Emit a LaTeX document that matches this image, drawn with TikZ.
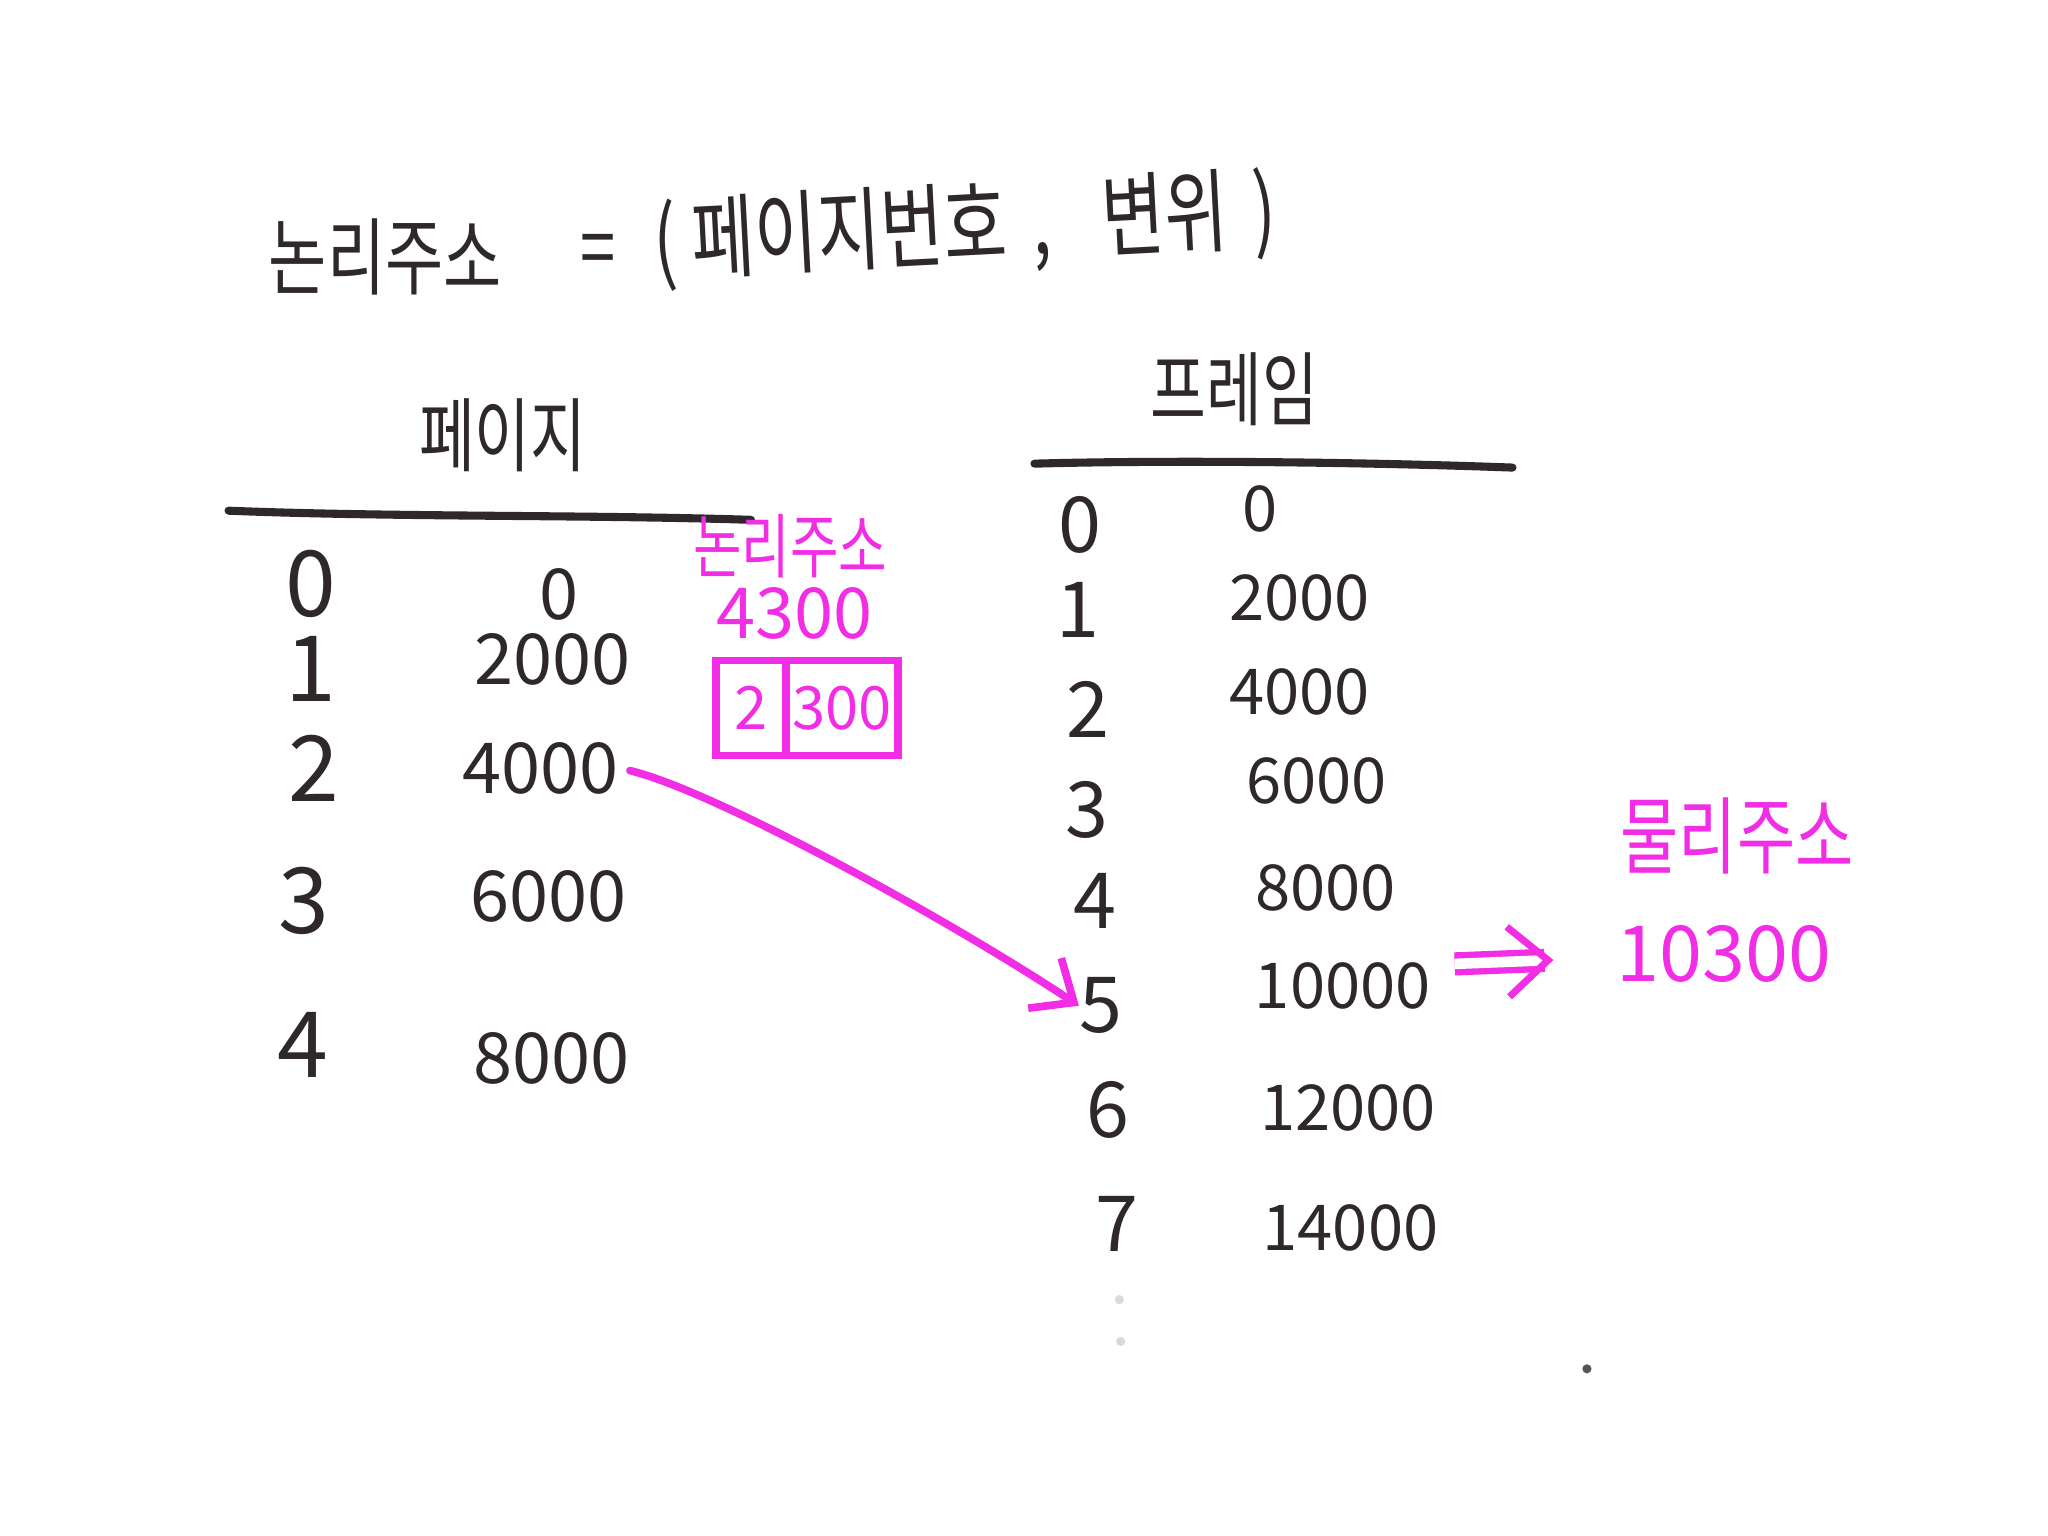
\documentclass[tikz,border=0pt]{standalone}
\usepackage{fontspec}
\setmainfont{Noto Sans CJK KR}
\newfontfamily\kor[FakeStretch=0.75]{Noto Sans CJK KR}
\usepackage{tikz}
\usetikzlibrary{positioning,arrows.meta}
\tikzset{>={Straight Barb[length=3.5mm,width=6mm]}}
\definecolor{ink}{HTML}{2E272B}
\definecolor{marker}{HTML}{F22DE6}
\tikzstyle{title} = [text=ink, font=\kor\fontsize{24}{28}\selectfont, inner sep=0pt]
\tikzstyle{head} = [text=ink, font=\kor\fontsize{23}{26}\selectfont, inner sep=0pt]
\tikzstyle{pidx} = [text=ink, font=\fontsize{26}{30}\selectfont, inner sep=0pt]
\tikzstyle{pval} = [text=ink, font=\fontsize{20}{24}\selectfont, inner sep=0pt]
\tikzstyle{fidx} = [text=ink, font=\fontsize{22}{26}\selectfont, inner sep=0pt]
\tikzstyle{fval} = [text=ink, font=\fontsize{18}{22}\selectfont, inner sep=0pt]
\tikzstyle{note} = [text=marker, font=\kor\fontsize{20}{24}\selectfont, inner sep=0pt]
\tikzstyle{pinkbox} = [draw=marker, line width=2.2pt, text=marker, font=\fontsize{17}{20}\selectfont, minimum height=0.95cm, inner sep=0pt, outer sep=0pt]
\tikzstyle{rule} = [draw=ink, line width=2.3pt, line cap=round]
\tikzstyle{pinkline} = [draw=marker, line width=2.2pt, line cap=round]

\begin{document}
\begin{tikzpicture}[x=0.01306cm, y=-0.01306cm]

    \useasboundingbox (0,0) rectangle (1568,1176);

    % title
    \node[title] (logaddr) at (295,197) {논리주소};
    \node[title] (eqsign) at (458,196) {=};
    \node[title, font=\kor\fontsize{26}{30}\selectfont, rotate=3, anchor=west] (pagepair) at (500,188) {(\,페이지번호\;,\;\;변위\;)};

    % page table
    \node[head] (pagehead) at (385,333) {페이지};
    \draw[rule] (175,391) .. controls (300,396) and (450,394) .. (575,398);

    \node[pidx] (p0) at (238,447) {0};
    \node[pidx] (p1) at (238,512) {1};
    \node[pidx] (p2) at (240,588) {2};
    \node[pidx] (p3) at (233,690) {3};
    \node[pidx] (p4) at (232,800) {4};

    \node[pval] (p0v) at (428,455) {0};
    \node[pval] (p1v) at (423,505) {2000};
    \node[pval] (p2v) at (414,588) {4000};
    \node[pval] (p3v) at (420,686) {6000};
    \node[pval] (p4v) at (422,810) {8000};

    % frame table
    \node[head] (framehead) at (945,298) {프레임};
    \draw[rule] (792,355) .. controls (900,352) and (1050,354) .. (1158,358);

    \node[fidx] (f0) at (827,402) {0};
    \node[fidx] (f1) at (825,467) {1};
    \node[fidx] (f2) at (833,543) {2};
    \node[fidx] (f3) at (832,620) {3};
    \node[fidx] (f4) at (838,690) {4};
    \node[fidx] (f5) at (843,770) {5};
    \node[fidx] (f6) at (848,850) {6};
    \node[fidx] (f7) at (855,937) {7};

    \node[fval] (f0v) at (965,390) {0};
    \node[fval] (f1v) at (995,458) {2000};
    \node[fval] (f2v) at (995,530) {4000};
    \node[fval] (f3v) at (1008,598) {6000};
    \node[fval] (f4v) at (1015,680) {8000};
    \node[fval] (f5v) at (1028,755) {10000};
    \node[fval] (f6v) at (1032,848) {12000};
    \node[fval] (f7v) at (1034,940) {14000};

    \fill[black!15] (857,995) circle (3.5) (858,1027) circle (3.5);
    \fill[ink!80] (1215,1048) circle (3.5);

    % logical address
    \node[note] (lname) at (605,418) {논리주소};
    \node[note, font=\fontsize{20}{24}\selectfont] (lnum) at (608,470) {4300};
    \node[pinkbox, minimum width=0.7cm] (pageno) at (575,542) {2};
    \node[pinkbox, minimum width=1.12cm, right=0pt of pageno] (offset) {300};

    % physical address
    \node[note, font=\kor\fontsize{24}{28}\selectfont] (pname) at (1330,640) {물리주소};
    \node[note, font=\fontsize{22}{26}\selectfont] (pnum) at (1320,730) {10300};

    \draw[pinkline, ->] ([shift={(8,2)}]p2v.east) .. controls (545,605) and (720,700) .. (f5.west);
    \draw[draw=marker, line width=1.8pt, double, double distance=3pt, -{Straight Barb[length=4mm,width=7mm,line width=2pt]}] ([shift={(18,-17)}]f5v.east) -- ([shift={(-48,5)}]pnum.west);

\end{tikzpicture}
\end{document}
